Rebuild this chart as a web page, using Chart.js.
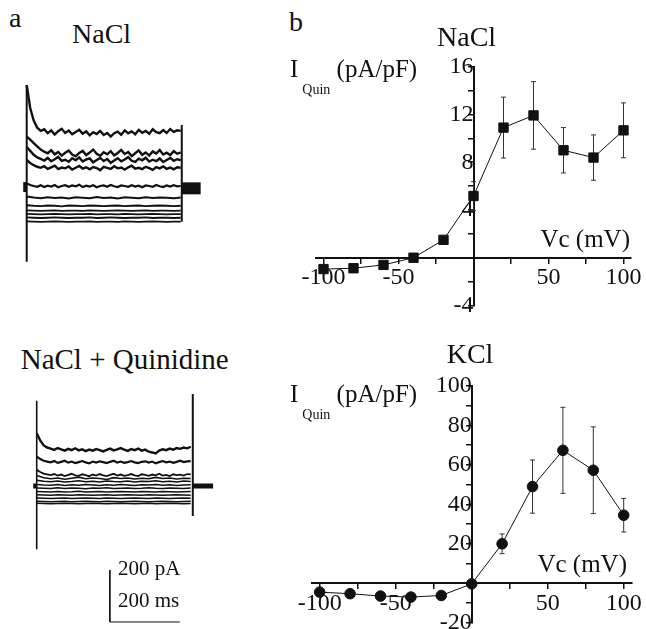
<!DOCTYPE html>
<html lang="en">
<head>
<meta charset="UTF-8">
<title>Quinidine-sensitive current</title>
<script src="https://cdn.jsdelivr.net/npm/chart.js"></script>
<style>
    body { margin: 0; background: #fff; font-family: "Liberation Serif", "Times New Roman", serif; }
    #page { position: relative; width: 646px; height: 629px; overflow: hidden; }
    canvas { position: absolute; }
    .t { position: absolute; line-height: 1; white-space: nowrap; color: #111; }
    .t sub { font-size: 14px; position: relative; top: 17px; vertical-align: baseline; margin-left: 4px; }
</style>
</head>
<body>
<div id="page">
    <canvas id="traceNaCl" width="240" height="220" style="left:0;top:60px"></canvas>
    <canvas id="traceQuin" width="240" height="249" style="left:0;top:380px"></canvas>
    <canvas id="ivNaCl" width="366" height="275" style="left:280px;top:40px"></canvas>
    <canvas id="ivKCl" width="366" height="269" style="left:280px;top:360px"></canvas>

    <div class="t" style="left:9px;top:3.5px;font-size:28px">a</div>
    <div class="t" style="left:72px;top:19.5px;font-size:28px">NaCl</div>
    <div class="t" style="left:20.7px;top:345px;font-size:29px">NaCl + Quinidine</div>
    <div class="t" style="left:118px;top:558.4px;font-size:21px">200 pA</div>
    <div class="t" style="left:118px;top:590.4px;font-size:21px">200 ms</div>

    <div class="t" style="left:289px;top:8px;font-size:28px">b</div>
    <div class="t" style="left:437px;top:22.5px;font-size:28px">NaCl</div>
    <div class="t" style="left:290px;top:56px;font-size:25px">I<sub>Quin</sub> (pA/pF)</div>
    <div class="t" style="right:16px;top:225.8px;font-size:25px">Vc (mV)</div>
    <div class="t" style="left:446.7px;top:339.8px;font-size:28px">KCl</div>
    <div class="t" style="left:290px;top:380.8px;font-size:25px">I<sub>Quin</sub> (pA/pF)</div>
    <div class="t" style="right:19px;top:550.8px;font-size:25px">Vc (mV)</div>
</div>

<script>
// ---- panel b: I-V data (mV, pA/pF) ----
const voltages = [-100, -80, -60, -40, -20, 0, 20, 40, 60, 80, 100];
const naclCurrent = [-0.95, -0.88, -0.6, 0.0, 1.5, 5.17, 10.9, 11.92, 9.0, 8.39, 10.67];
const naclError = [0, 0, 0, 0, 0, 1.2, 2.55, 2.83, 1.9, 1.9, 2.3];
const kclCurrent = [-4.5, -5.3, -6.5, -7.0, -6.2, -0.3, 20, 49, 67.4, 57.3, 34.5];
const kclError = [0, 0, 0, 0, 0, 0, 5, 13.5, 21.8, 22, 8.5];

const vTicks = [-100, -75, -50, -25, 25, 50, 75, 100];
const naclTicks = [-4, -2, 2, 4, 6, 8, 10, 12, 14, 16];
const kclTicks = [-20, -10, 10, 20, 30, 40, 50, 60, 70, 80, 90, 100];

// ---- panel a: current traces (ms, pA) ----
// noisy traces sampled every 10 ms, quieter ones every 20 ms
const fineTimes = [0, 10, 20, 30, 40, 50, 60, 70, 80, 90, 100, 110, 120, 130, 140, 150, 160, 170, 180, 190, 200, 210, 220,
    230, 240, 250, 260, 270, 280, 290, 300, 310, 320, 330, 340, 350, 360, 370, 380, 390, 400, 410, 420, 430, 440];
const coarseTimes = [0, 20, 40, 60, 80, 100, 120, 140, 160, 180, 200, 220, 240, 260, 280, 300, 320, 340, 360, 380, 400, 420, 440];

const naclT1 = [388, 300, 252, 224, 212, 218, 203, 214, 198, 211, 220, 204, 213, 199, 208, 216, 201, 210, 195, 207, 200, 212, 196,
    204, 190, 203, 209, 197, 214, 203, 210, 199, 216, 205, 212, 201, 218, 207, 203, 215, 204, 219, 208, 214, 212];
const naclT2 = [190, 178, 165, 152, 140, 132, 126, 138, 122, 131, 117, 128, 136, 121, 114, 127, 135, 119, 129, 140, 124, 116, 130,
    122, 134, 118, 127, 139, 123, 131, 115, 126, 137, 120, 129, 117, 133, 125, 138, 121, 128, 119, 134, 124, 129];
const naclT3 = [150, 135, 120, 110, 104, 98, 108, 95, 103, 112, 97, 101, 93, 107, 99, 110, 94, 102, 106, 91, 100, 108, 96,
    104, 89, 98, 107, 95, 102, 111, 97, 93, 105, 99, 109, 94, 101, 96, 106, 92, 100, 108, 97, 103, 99];
const naclT4 = [100, 88, 80, 74, 70, 76, 66, 72, 78, 65, 71, 68, 75, 63, 70, 77, 67, 72, 64, 73, 69, 61, 74,
    70, 66, 76, 68, 71, 63, 72, 78, 67, 70, 65, 74, 69, 62, 73, 68, 75, 66, 71, 64, 72, 70];
const naclT5 = [10, 4, 0, -3, 3, -4, 1, -2, 4, -5, 0, 3, -3, 2, -1, 5, -4, 1, -2, 3, -5, 0, 2,
    -3, 4, -1, -4, 2, 0, -3, 3, -2, 1, -5, 2, 0, -3, 4, -1, -4, 2, -2, 3, -1, 0];
const naclT6 = [-40, -44, -47, -43, -46, -44, -48, -43, -45, -47, -42, -46, -44, -48, -43, -45, -47, -43, -46, -44, -45, -47, -44];
const naclT7 = [-74, -76, -77, -75, -76, -78, -75, -76, -77, -75, -76, -77, -76, -75, -77, -76, -75, -77, -76, -75, -76, -77, -76];
const naclT8 = [-94, -95, -96, -95, -94, -96, -95, -95, -96, -94, -95, -96, -95, -94, -95, -96, -95, -94, -96, -95, -95, -96, -95];
const naclT9 = [-107, -108, -109, -108, -107, -108, -109, -108, -108, -107, -109, -108, -108, -109, -107, -108, -109, -108, -107, -108, -109, -108, -108];
const naclT10 = [-121, -122, -123, -122, -121, -122, -123, -122, -122, -121, -123, -122, -121, -122, -123, -122, -122, -121, -123, -122, -122, -123, -122];
const naclT11 = [-136, -137, -138, -137, -136, -137, -138, -137, -137, -136, -138, -137, -137, -138, -136, -137, -138, -137, -136, -137, -138, -137, -137];

const quinT1 = [203, 175, 156, 148, 144, 139, 146, 141, 136, 143, 138, 145, 137, 141, 134, 140, 136, 142, 138, 133, 139, 144, 137,
    141, 146, 140, 135, 142, 138, 144, 136, 140, 132, 129, 125, 136, 141, 138, 144, 140, 146, 143, 148, 145, 151];
const quinT2 = [113, 104, 97, 94, 91, 96, 89, 93, 97, 90, 94, 88, 92, 96, 91, 87, 94, 90, 95, 92, 88, 93, 97,
    90, 94, 89, 92, 96, 91, 88, 93, 95, 90, 94, 87, 92, 96, 91, 94, 89, 93, 97, 92, 95, 96];
const quinT3 = [62, 54, 48, 45, 42, 46, 40, 44, 38, 43, 47, 41, 39, 45, 42, 37, 44, 40, 46, 41, 38, 43, 47,
    40, 44, 39, 42, 46, 41, 38, 45, 43, 39, 44, 41, 47, 40, 43, 38, 45, 42, 44, 40, 46, 45];
const quinT4 = [40, 32, 28, 31, 26, 30, 34, 28, 31, 29, 25, 32, 29, 31, 27, 30, 28, 33, 29, 31, 27, 30, 29];
const quinT5 = [22, 18, 16, 19, 15, 17, 20, 16, 18, 15, 19, 17, 16, 19, 15, 18, 17, 20, 16, 18, 15, 19, 17];
const quinT6 = [6, 4, 3, 6, 2, 5, 3, 6, 4, 2, 5, 3, 6, 4, 2, 5, 4, 6, 3, 5, 2, 4, 5];
const quinT7 = [-8, -9, -10, -7, -10, -8, -9, -11, -8, -9, -7, -10, -9, -8, -10, -9, -7, -9, -10, -8, -9, -10, -8];
const quinT8 = [-21, -22, -23, -21, -23, -22, -20, -23, -22, -21, -23, -22, -21, -22, -23, -21, -22, -23, -21, -22, -23, -22, -21];
const quinT9 = [-34, -35, -36, -34, -35, -36, -34, -35, -36, -35, -34, -36, -35, -34, -35, -36, -34, -35, -36, -35, -34, -35, -36];
const quinT10 = [-46, -47, -48, -47, -46, -48, -47, -46, -47, -48, -46, -47, -48, -47, -46, -47, -48, -46, -47, -48, -47, -46, -47];
const quinT11 = [-59, -60, -61, -60, -59, -61, -60, -59, -60, -61, -59, -60, -61, -60, -59, -60, -61, -60, -59, -60, -61, -60, -59];
const quinT12 = [-66, -67, -68, -67, -66, -67, -68, -67, -66, -67, -68, -67, -66, -67, -68, -67, -66, -68, -67, -66, -67, -68, -67];

// transients at step on/off and holding segments
const naclOnset = [{x: 0, y: 388}, {x: 0, y: -291}];
const naclOffset = [{x: 443, y: 235}, {x: 443, y: -137}];
const naclHoldBefore = [{x: -10, y: -4}, {x: 0, y: -4}];
const naclHoldAfter = [{x: 443, y: -9}, {x: 497, y: -9}];
const quinOnset = [{x: 0, y: 328}, {x: 0, y: -243}];
const quinOffset = [{x: 446, y: 354}, {x: 446, y: -115}];
const quinHoldBefore = [{x: -10, y: 0}, {x: 0, y: 0}];
const quinHoldAfter = [{x: 446, y: 0}, {x: 504, y: 0}];
// 200 pA / 200 ms scale bar
const scaleBar = [{x: 209, y: -323}, {x: 209, y: -523}, {x: 409, y: -523}];

const ink = '#111';
const serif = 'Liberation Serif';

function toPoints(values) {
    const times = values.length === fineTimes.length ? fineTimes : coarseTimes;
    return values.map((v, i) => ({x: times[i], y: v}));
}

function traceSet(data, width) {
    return {data: data, showLine: true, pointRadius: 0, borderColor: ink, borderWidth: width, tension: 0};
}

function traceChart(id, traces, extras, xr, yr) {
    const datasets = traces.map(t => traceSet(toPoints(t[0]), t[1])).concat(extras);
    new Chart(document.getElementById(id), {
        type: 'scatter',
        data: {datasets: datasets},
        options: {
            responsive: false,
            animation: false,
            events: [],
            plugins: {legend: {display: false}, tooltip: {enabled: false}},
            scales: {
                x: {type: 'linear', display: false, min: xr[0], max: xr[1]},
                y: {type: 'linear', display: false, min: yr[0], max: yr[1]}
            }
        }
    });
}

traceChart('traceNaCl',
    [[naclT1, 2.4], [naclT2, 2.4], [naclT3, 2.4], [naclT4, 2.4], [naclT5, 2.2], [naclT6, 2],
     [naclT7, 1.8], [naclT8, 1.8], [naclT9, 1.8], [naclT10, 1.8], [naclT11, 1.8]],
    [traceSet(naclOnset, 2), traceSet(naclOffset, 2),
     traceSet(naclHoldBefore, 10), traceSet(naclHoldAfter, 12)],
    [-76.3, 609.4], [-361.5, 484.6]);

traceChart('traceQuin',
    [[quinT1, 2.4], [quinT2, 2.2], [quinT3, 1.8], [quinT4, 1.6], [quinT5, 1.5], [quinT6, 1.5],
     [quinT7, 1.5], [quinT8, 1.5], [quinT9, 1.5], [quinT10, 1.5], [quinT11, 1.5], [quinT12, 1.5]],
    [traceSet(quinOnset, 1.6), traceSet(quinOffset, 2),
     traceSet(quinHoldBefore, 5), traceSet(quinHoldAfter, 5),
     traceSet(scaleBar, 1)],
    [-104.9, 580.9], [-550, 407.7]);

// error bars drawn under the markers
const errorBars = {
    id: 'errorBars',
    beforeDatasetsDraw(chart) {
        const {ctx, scales: {x, y}} = chart;
        ctx.save();
        ctx.strokeStyle = '#333';
        ctx.lineWidth = 1;
        chart.data.datasets.forEach(ds => {
            if (!ds.errors) return;
            ds.data.forEach((p, i) => {
                const e = ds.errors[i];
                if (!e) return;
                const px = x.getPixelForValue(p.x);
                const top = y.getPixelForValue(p.y + e);
                const bot = y.getPixelForValue(p.y - e);
                ctx.beginPath();
                ctx.moveTo(px, top); ctx.lineTo(px, bot);
                ctx.moveTo(px - 2.5, top); ctx.lineTo(px + 2.5, top);
                ctx.moveTo(px - 2.5, bot); ctx.lineTo(px + 2.5, bot);
                ctx.stroke();
            });
        });
        ctx.restore();
    }
};

// axes cross at the origin; they must not take any room from the plot area
function noRoom(s) {
    if (s.isHorizontal()) s.height = 0; else s.width = 0;
    s.paddingTop = 0; s.paddingBottom = 0; s.paddingLeft = 0; s.paddingRight = 0;
}

function axisOpts(extra) {
    return Object.assign({
        type: 'linear',
        afterFit: noRoom,
        grid: {drawOnChartArea: false, drawTicks: true, tickLength: 5, color: ink, lineWidth: 1.5},
        border: {display: true, color: ink, width: 2}
    }, extra);
}

function ivChart(id, current, error, marker, radius, yRange, yTicks, labelStep, pad) {
    new Chart(document.getElementById(id), {
        type: 'scatter',
        data: {
            datasets: [{
                data: voltages.map((v, i) => ({x: v, y: current[i]})),
                errors: error,
                showLine: true,
                borderColor: ink,
                borderWidth: 1,
                pointStyle: marker,
                pointRadius: radius,
                pointBackgroundColor: ink,
                pointBorderColor: ink,
                pointBorderWidth: 1
            }]
        },
        options: {
            responsive: false,
            animation: false,
            events: [],
            layout: {padding: pad},
            plugins: {legend: {display: false}, tooltip: {enabled: false}},
            scales: {
                x: axisOpts({
                    min: -105, max: 105,
                    position: {y: 0},
                    afterBuildTicks: s => { s.ticks = vTicks.map(v => ({value: v})); },
                    ticks: {autoSkip: false, maxRotation: 0, padding: 1, color: ink, font: {family: serif, size: 24},
                        callback: v => (v % 50 === 0 ? String(v) : '')}
                }),
                y: axisOpts({
                    min: yRange[0], max: yRange[1],
                    position: {x: 0},
                    afterBuildTicks: s => { s.ticks = yTicks.map(v => ({value: v})); },
                    ticks: {autoSkip: false, padding: 3, color: ink, font: {family: serif, size: 24},
                        callback: v => (v % labelStep === 0 ? String(v) : '')}
                })
            }
        },
        plugins: [errorBars]
    });
}

ivChart('ivNaCl', naclCurrent, naclError, 'rect', 6.6, [-4, 16], naclTicks, 4,
    {left: 36, right: 15, top: 26.7, bottom: 9.5});
ivChart('ivKCl', kclCurrent, kclError, 'circle', 5.3, [-20, 100], kclTicks, 20,
    {left: 32.1, right: 14.7, top: 26, bottom: 3.4});
</script>
</body>
</html>
